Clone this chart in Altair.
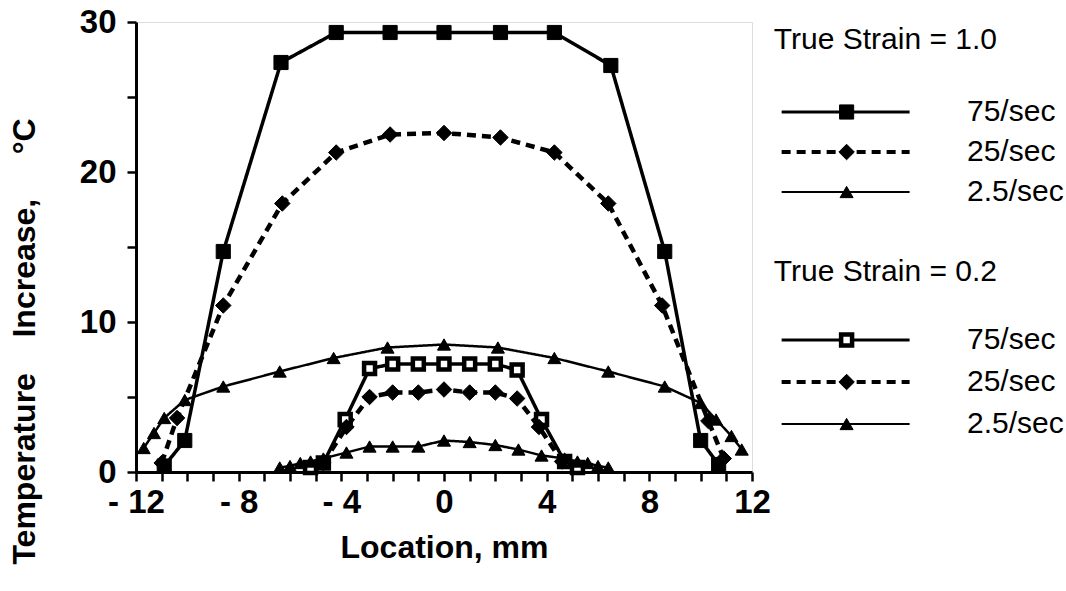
import altair as alt
import pandas as pd

# ---- data ----
s10_75_x = [-10.9, -10.1, -8.6, -6.35, -4.2, -2.1, 0.0, 2.2, 4.3, 6.5, 8.6, 10.0, 10.7]
s10_75_y = [0.4, 2.1, 14.7, 27.3, 29.3, 29.3, 29.3, 29.3, 29.3, 27.1, 14.7, 2.1, 0.5]

s10_25_x = [-11.0, -10.4, -8.6, -6.3, -4.2, -2.1, 0.0, 2.2, 4.3, 6.4, 8.5, 10.3, 10.9]
s10_25_y = [0.6, 3.6, 11.1, 17.9, 21.3, 22.5, 22.6, 22.3, 21.3, 17.9, 11.1, 3.4, 0.9]

s10_2_x = [-11.7, -11.3, -10.9, -10.1, -8.6, -6.4, -4.3, -2.2, 0.0, 2.1, 4.3, 6.4, 8.6, 10.0, 10.6, 11.2, 11.6]
s10_2_y = [1.6, 2.6, 3.6, 4.8, 5.7, 6.7, 7.6, 8.3, 8.5, 8.3, 7.6, 6.7, 5.7, 4.6, 3.5, 2.4, 1.5]

s02_75_x = [-5.2, -4.7, -3.85, -2.9, -2.0, -1.0, 0.0, 1.0, 2.0, 2.85, 3.8, 4.7, 5.2]
s02_75_y = [0.3, 0.6, 3.5, 6.9, 7.2, 7.2, 7.2, 7.2, 7.2, 6.8, 3.5, 0.7, 0.3]

s02_25_x = [-4.7, -3.8, -2.9, -2.0, -1.0, 0.0, 1.0, 2.0, 2.85, 3.7, 4.6]
s02_25_y = [0.6, 3.0, 5.0, 5.3, 5.3, 5.5, 5.3, 5.3, 4.9, 3.0, 0.7]

s02_2_x = [-6.4, -6.0, -5.6, -5.2, -4.7, -3.8, -2.9, -2.0, -1.0, 0.0, 1.0, 2.0, 2.9, 3.8, 4.7, 5.2, 5.6, 6.0, 6.4]
s02_2_y = [0.3, 0.4, 0.6, 0.7, 0.9, 1.3, 1.7, 1.7, 1.7, 2.1, 2.0, 1.8, 1.5, 1.1, 0.9, 0.7, 0.6, 0.4, 0.3]

series = [
    ("s10_75", s10_75_x, s10_75_y),
    ("s10_25", s10_25_x, s10_25_y),
    ("s10_2", s10_2_x, s10_2_y),
    ("s02_75", s02_75_x, s02_75_y),
    ("s02_25", s02_25_x, s02_25_y),
    ("s02_2", s02_2_x, s02_2_y),
]

legend_titles = ["True Strain = 1.0", "True Strain = 0.2"]
legend_title_rows = [0.0, 5.8]
legend_labels = ["75/sec", "25/sec", "2.5/sec", "75/sec", "25/sec", "2.5/sec"]
legend_keys = ["s10_75", "s10_25", "s10_2", "s02_75", "s02_25", "s02_2"]
legend_rows = [1.8, 2.8, 3.8, 7.5, 8.55, 9.6]

x_ticks = list(range(-12, 13))
y_ticks = [0, 5, 10, 15, 20, 25, 30]
NB = "\u00a0"
y_title = "Temperature" + NB * 4 + "Increase," + NB * 5 + "°C"

# ---- styles ----
FONT = "Liberation Sans"
styles = {
    "s10_75": dict(dash=[1, 0], sw=3.5, shape="square", size=200, fill="black", osw=1),
    "s10_25": dict(dash=[9, 6], sw=4.5, shape="diamond", size=240, fill="black", osw=1),
    "s10_2": dict(dash=[1, 0], sw=2.5, shape="triangle-up", size=170, fill="black", osw=1),
    "s02_75": dict(dash=[1, 0], sw=3.5, shape="square", size=120, fill="white", osw=4.5),
    "s02_25": dict(dash=[9, 6], sw=4.5, shape="diamond", size=240, fill="black", osw=1),
    "s02_2": dict(dash=[1, 0], sw=2.5, shape="triangle-up", size=170, fill="black", osw=1),
}

rows = []
for key, xs, ys in series:
    for xv, yv in zip(xs, ys):
        rows.append({"s": key, "x": xv, "y": yv})
df = pd.DataFrame(rows)

label_expr = ("datum.value % 4 == 0 ? (datum.value < 0 ? '- ' + abs(datum.value) : '' + datum.value) : ''")

base = alt.Chart(df).encode(
    x=alt.X("x:Q", scale=alt.Scale(domain=[-12, 12], nice=False, zero=False),
            axis=alt.Axis(values=x_ticks, labelExpr=label_expr, title="Location, mm",
                          grid=False, domainColor="black", domainWidth=3,
                          tickColor="black", tickWidth=2.5, tickSize=9,
                          labelFont=FONT, labelFontSize=33, labelFontWeight="bold",
                          labelColor="black", labelPadding=5, labelFlush=False,
                          titleFont=FONT, titleFontSize=32, titleFontWeight="bold",
                          titleColor="black", titlePadding=13)),
    y=alt.Y("y:Q", scale=alt.Scale(domain=[0, 30], nice=False),
            axis=alt.Axis(values=y_ticks,
                          labelExpr="datum.value % 10 == 0 ? '' + datum.value : ''",
                          title=y_title,
                          grid=False, domainColor="black", domainWidth=3,
                          tickColor="black", tickWidth=2.5, tickSize=9,
                          labelFont=FONT, labelFontSize=33, labelFontWeight="bold",
                          labelColor="black", labelPadding=11,
                          titleFont=FONT, titleFontSize=32, titleFontWeight="bold",
                          titleColor="black", titleX=-112, titleY=319,
                          titleAlign="center", titleBaseline="middle")),
)

layers = []
for key, _, _ in series:
    st = styles[key]
    sub = base.transform_filter(alt.datum.s == key)
    layers.append(sub.mark_line(color="black", strokeWidth=st["sw"], strokeDash=st["dash"]))
for key, _, _ in series:
    st = styles[key]
    sub = base.transform_filter(alt.datum.s == key)
    layers.append(sub.mark_point(shape=st["shape"], size=st["size"], filled=True,
                                 fill=st["fill"], stroke="black", strokeWidth=st["osw"],
                                 opacity=1))

main = alt.layer(*layers).properties(width=616, height=450)

# ---- legend panel ----
ldf = pd.DataFrame({"row": legend_rows, "label": legend_labels, "s": legend_keys})
tdf = pd.DataFrame({"row": legend_title_rows, "label": legend_titles})

lx = alt.Scale(domain=[0, 10], nice=False, zero=False)
ly = alt.Scale(domain=[-0.45, 10.8], reverse=True, nice=False, zero=False)

lbase = alt.Chart(ldf).encode(y=alt.Y("row:Q", scale=ly, axis=None))
llayers = []
for key in legend_keys:
    st = styles[key]
    sub = lbase.transform_filter(alt.datum.s == key)
    llayers.append(sub.mark_rule(color="black", strokeWidth=st["sw"] - 0.5, strokeDash=st["dash"]).encode(
        x=alt.X("a:Q", scale=lx, axis=None), x2="b:Q").transform_calculate(a="0.38", b="4.95"))
    llayers.append(sub.mark_point(shape=st["shape"], size=st["size"], filled=True, fill=st["fill"],
                                  stroke="black", strokeWidth=st["osw"],
                                  opacity=1).encode(
        x=alt.X("m:Q", scale=lx, axis=None)).transform_calculate(m="2.7"))
llayers.append(lbase.mark_text(align="left", baseline="middle", font=FONT, fontSize=30,
                               color="black").encode(
    x=alt.X("t:Q", scale=lx, axis=None), text="label:N").transform_calculate(t="7.0"))
llayers.append(alt.Chart(tdf).mark_text(align="left", baseline="middle", font=FONT, fontSize=30,
                                        color="black").encode(
    y=alt.Y("row:Q", scale=ly, axis=None),
    x=alt.X("t:Q", scale=lx, axis=None), text="label:N").transform_calculate(t="0.1"))

legend = alt.layer(*llayers).properties(width=280, height=450,
                                         view=alt.ViewBackground(strokeOpacity=0))

chart = alt.hconcat(main, legend, spacing=0).properties(
    padding={"left": 7, "top": 5, "right": 0, "bottom": 0}
).configure_view(stroke="black", strokeWidth=3).configure(background="white")

chart.save("out.html", embed_options={"renderer": "svg", "actions": False})
